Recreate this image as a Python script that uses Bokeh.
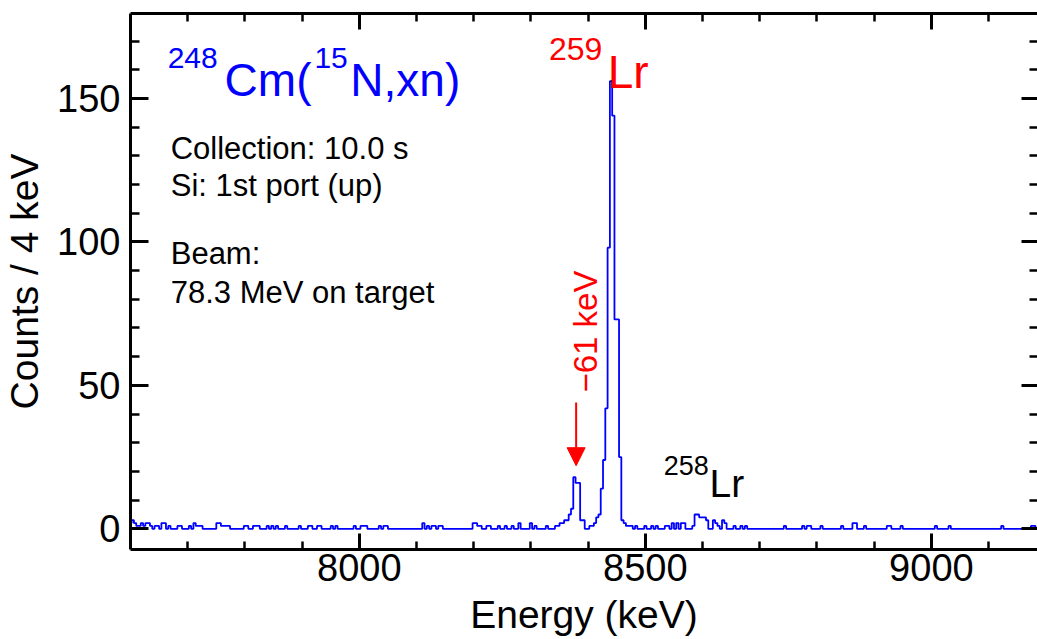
import numpy as np
from bokeh.plotting import figure
from bokeh.models import Range1d, FixedTicker, LinearAxis, Label, Arrow, NormalHead
from bokeh.embed import file_html
from bokeh.resources import INLINE

# ---------------- data ----------------
BIN_WIDTH = 4  # keV per bin, bins centred on multiples of 4 keV
bin_first_center = 7600
bin_last_center = 9196

# non-empty bins: (centre energy in keV, counts)
background_energies = [
    7600, 7604, 7608, 7612, 7616, 7620, 7624, 7628, 7632, 7636, 7644, 7648, 7656, 7660,
    7668, 7684, 7688, 7704, 7712, 7716, 7720, 7724, 7752, 7756, 7760, 7764, 7768, 7772,
    7800, 7804, 7816, 7820, 7824, 7840, 7848, 7856, 7872, 7896,
    7912, 7916, 7928, 7932, 7952, 7960, 7992, 8004, 8008, 8012, 8036, 8044, 8048,
    8112, 8120, 8128, 8132, 8140, 8144, 8200, 8204, 8208, 8212,
    8224, 8228, 8244, 8256, 8268, 8280, 8300, 8308, 8328, 8344, 8348, 8352, 8356, 8360,
]
background_counts = [
    2, 3, 2, 1, 1, 2, 1, 2, 2, 1, 1, 1, 2, 2,
    1, 1, 1, 1, 2, 1, 1, 1, 2, 2, 1, 1, 1, 1,
    1, 1, 1, 1, 1, 1, 1, 1, 1, 1,
    1, 1, 1, 1, 1, 1, 1, 1, 1, 1, 1, 1, 1,
    2, 1, 1, 1, 1, 1, 2, 2, 1, 1,
    1, 1, 1, 1, 1, 2, 2, 1, 1, 1, 1, 2, 2, 3,
]

# 259Lr main peak and its -61 keV satellite
peak_energies = [8364, 8368, 8372, 8376, 8380, 8384, 8388, 8392, 8404, 8408, 8412,
                 8416, 8420, 8424, 8428, 8432, 8436, 8440, 8444, 8448, 8452, 8456, 8460]
peak_counts = [3, 5, 7, 18, 16, 16, 3, 3, 1, 1, 2,
               4, 5, 14, 24, 42, 98, 156, 144, 73, 73, 25, 3]

# tail / 258Lr region
tail_energies = [
    8464, 8468, 8472, 8476, 8484, 8500, 8512, 8520, 8536, 8540, 8548, 8556, 8564, 8568,
    8584, 8588, 8592, 8596, 8600, 8604, 8608, 8620, 8624, 8628, 8636, 8640, 8656, 8668,
    8676, 8744, 8776, 8784, 8788, 8808, 8844, 8864, 8868, 8884, 8924, 8928, 8948, 9008,
    9032, 9124, 9176, 9180,
]
tail_counts = [
    2, 1, 1, 1, 1, 1, 1, 1, 1, 1, 2, 2, 2, 2,
    1, 5, 5, 4, 4, 4, 3, 3, 2, 1, 3, 2, 1, 1,
    1, 1, 1, 1, 1, 1, 1, 2, 2, 1, 1, 1, 1, 1,
    1, 1, 1, 1,
]

x_major = [8000, 8500, 9000]
x_minor = list(range(7700, 9200, 100))
y_major = [0, 50, 100, 150]
y_minor = list(range(0, 180, 10))

# ---------------- build histogram ----------------
centers = np.arange(bin_first_center, bin_last_center + BIN_WIDTH, BIN_WIDTH)
counts = np.zeros(len(centers))
for es, cs in ((background_energies, background_counts),
               (peak_energies, peak_counts),
               (tail_energies, tail_counts)):
    for e, c in zip(es, cs):
        counts[(e - bin_first_center) // BIN_WIDTH] = c
edges = centers - BIN_WIDTH / 2
xs = np.append(edges, edges[-1] + BIN_WIDTH)
ys = np.append(counts, counts[-1])

FONT = "Liberation Sans"
BLUE = "#0000ff"
RED = "#ff0000"

p = figure(width=1037, height=639, output_backend="svg", toolbar_location=None,
           x_range=Range1d(7600, 9185.5), y_range=Range1d(-7.2, 179.6),
           x_axis_location=None, y_axis_location=None,
           min_border_left=128, min_border_right=0, min_border_top=13, min_border_bottom=90)
p.outline_line_color = None
p.background_fill_color = "white"
p.border_fill_color = "white"
p.grid.visible = False
for g in p.grid:
    g.grid_line_color = None

xt = FixedTicker(ticks=x_major, minor_ticks=x_minor)
yt = FixedTicker(ticks=y_major, minor_ticks=y_minor)


def style(ax, major_in, minor_in, labels=True):
    ax.axis_line_width = 3
    ax.axis_line_color = "black"
    ax.major_tick_line_width = 3
    ax.minor_tick_line_width = 2.5
    ax.major_tick_in = major_in
    ax.major_tick_out = 0
    ax.minor_tick_in = minor_in
    ax.minor_tick_out = 0
    if labels:
        ax.major_label_text_font = FONT
        ax.major_label_text_font_size = "38px"
        ax.major_label_text_color = "black"
        ax.axis_label_text_font = FONT
        ax.axis_label_text_font_size = "39px"
        ax.axis_label_text_font_style = "normal"
        ax.axis_label_text_color = "black"
    else:
        ax.major_label_text_font_size = "0px"
        ax.major_label_text_color = None
        ax.major_label_standoff = 0


bottom = LinearAxis(ticker=xt, axis_label="Energy (keV)")
style(bottom, 16, 8)
bottom.major_label_standoff = 4
bottom.axis_label_standoff = 9
p.add_layout(bottom, "below")

left = LinearAxis(ticker=yt, axis_label="Counts / 4 keV")
style(left, 18, 9)
left.major_label_standoff = 10
left.axis_label_standoff = 8
p.add_layout(left, "left")

top = LinearAxis(ticker=xt)
style(top, 16, 8, labels=False)
p.add_layout(top, "above")

right = LinearAxis(ticker=yt)
style(right, 16, 8, labels=False)
right.axis_line_color = None
p.add_layout(right, "right")

p.step(xs, ys, mode="after", line_color=BLUE, line_width=1.8)

# ---------------- annotations ----------------
def lab(x, y, text, size, color, angle=0, align="left"):
    p.add_layout(Label(x=x, y=y, text=text, text_font=FONT, text_font_size=size,
                       text_color=color, text_align=align, text_baseline="alphabetic",
                       angle=angle))

lab(7665, 164.0, "248", "30px", BLUE)
lab(7764.5, 156.4, "Cm(", "46px", BLUE)
lab(7921.5, 164.0, "15", "30px", BLUE)
lab(7984.3, 156.4, "N,xn)", "46px", BLUE)

lab(7670.3, 132.6, "Collection: 10.0 s", "31px", "black")
lab(7670.3, 119.7, "Si: 1st port (up)", "31px", "black")
lab(7670.3, 95.9, "Beam:", "31px", "black")
lab(7670.3, 82.5, "78.3 MeV on target", "31px", "black")

lab(8331.4, 167.1, "259", "32px", RED)
lab(8434.3, 159.2, "Lr", "46px", RED)

lab(8532, 22.1, "258", "27px", "black")
lab(8612.2, 15.7, "Lr", "39px", "black")

lab(8394.7, 47.5, "\u221261 keV", "33px", RED, angle=np.pi / 2)

satellite_energy = 8379
p.add_layout(Arrow(end=NormalHead(size=18, fill_color=RED, line_color=RED, line_width=1),
                   x_start=satellite_energy, y_start=44, x_end=satellite_energy, y_end=22,
                   line_color=RED, line_width=2))

open("out.html", "w").write(file_html(p, INLINE))
